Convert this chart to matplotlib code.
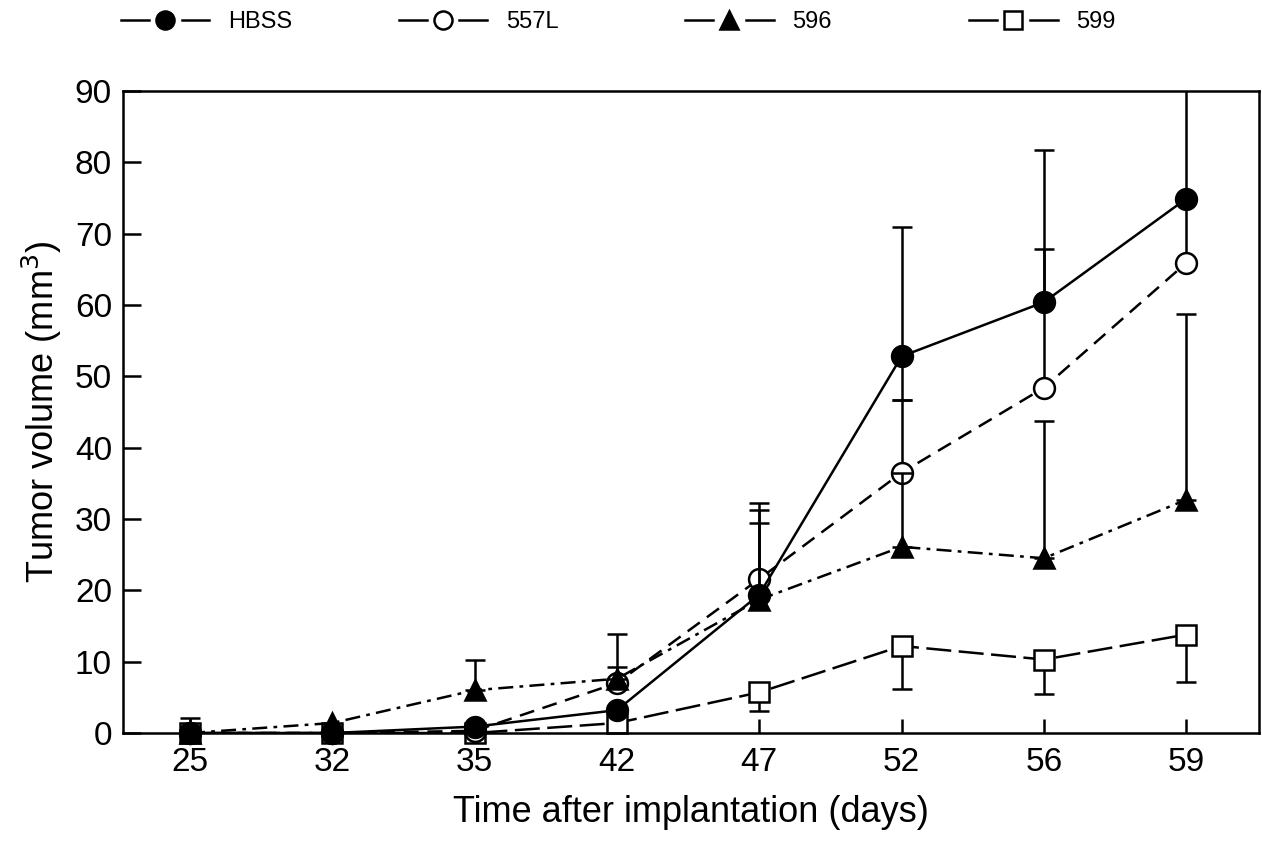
import numpy as np
import matplotlib.pyplot as plt
from matplotlib.lines import Line2D

plt.rcParams['font.family'] = ['Liberation Sans', 'DejaVu Sans']

days = ['25', '32', '35', '42', '47', '52', '56', '59']

hbss = [0, 0, 0.9, 3.2, 19.4, 52.8, 60.4, 74.9]
hbss_lo = [0, 0, 0, 0, 0, 6.1, 0, 0]
hbss_hi = [2.1, 0, 0, 0, 12.9, 18.2, 21.3, 20.0]

l557 = [0, 0, 0.3, 7.0, 21.6, 36.5, 48.4, 65.9]
l557_hi = [0, 0, 0, 2.2, 9.6, 10.2, 19.5, 8.6]

s596 = [0, 1.4, 6.0, 7.6, 18.7, 26.1, 24.5, 32.7]
s596_hi = [0, 0, 4.2, 6.3, 10.8, 10.4, 19.2, 26.0]

s599 = [0, 0, 0, 1.4, 5.7, 12.2, 10.3, 13.8]
s599_lo = [0, 0, 0, 0, 2.6, 6.1, 4.8, 6.7]

x = np.arange(len(days))
zeros = [0] * len(days)

series = [
    ('HBSS', hbss, hbss_lo, hbss_hi, 'o', 'black', '-'),
    ('557L', l557, zeros, l557_hi, 'o', 'white', (0, (6, 3.5))),
    ('596', s596, zeros, s596_hi, '^', 'black', (0, (6, 2.5, 1.5, 2.5))),
    ('599', s599, s599_lo, zeros, 's', 'white', (0, (10, 3))),
]
# drawing order: open markers first, filled ones on top
draw_order = [3, 1, 2, 0]

fig = plt.figure(figsize=(12.62, 8.48), dpi=100)
ax = fig.add_axes([0.0975, 0.1356, 0.9, 0.7571])

for k, i in enumerate(draw_order):
    name, vals, lo, hi, mk, fc, ls = series[i]
    vals = np.array(vals)
    lo = np.array(lo)
    hi = np.array(hi)
    z = 2 + k * 3
    up = hi > 0
    if up.any():
        ax.errorbar(x[up], vals[up], yerr=[np.zeros(up.sum()), hi[up]], fmt='none',
                    ecolor='black', elinewidth=1.8, capsize=7, capthick=1.8, zorder=z)
    dn = lo > 0
    if dn.any():
        ax.errorbar(x[dn], vals[dn], yerr=[lo[dn], np.zeros(dn.sum())], fmt='none',
                    ecolor='black', elinewidth=1.8, capsize=7, capthick=1.8, zorder=z)
    ax.plot(x, vals, color='black', linestyle=ls, linewidth=1.8, zorder=z + 1)
    ax.plot(x, vals, linestyle='none', marker=mk, markersize=15, markerfacecolor=fc,
            markeredgecolor='black', markeredgewidth=1.8, zorder=z + 2, clip_on=False)

ax.set_xlim(-0.47, 7.51)
ax.set_ylim(0, 90)
ax.set_xticks(x)
ax.set_xticklabels(days)
ax.set_yticks(range(0, 91, 10))
ax.tick_params(axis='x', direction='in', length=10, width=1.8, labelsize=24, pad=10)
ax.tick_params(axis='y', direction='in', length=13, width=1.8, labelsize=24, pad=8)
for sp in ax.spines.values():
    sp.set_linewidth(1.8)
    sp.set_zorder(20)
ax.set_xlabel('Time after implantation (days)', fontsize=26, labelpad=12)
ax.set_ylabel('Tumor volume (mm$^3$)', fontsize=26, labelpad=8)

# legend along the top
leg_x = [0.131, 0.351, 0.578, 0.803]
for (name, vals, lo, hi, mk, fc, ls), lx in zip(series, leg_x):
    fig.add_artist(Line2D([lx - 0.035, lx - 0.013], [0.976, 0.976], color='black',
                          linewidth=1.8, transform=fig.transFigure))
    fig.add_artist(Line2D([lx + 0.013, lx + 0.035], [0.976, 0.976], color='black',
                          linewidth=1.8, transform=fig.transFigure))
    fig.add_artist(Line2D([lx], [0.976], marker=mk, markersize=13, markerfacecolor=fc,
                          markeredgecolor='black', markeredgewidth=1.8, linestyle='none',
                          transform=fig.transFigure))
    fig.text(lx + 0.05, 0.974, name, fontsize=17, va='center', ha='left')

fig.savefig('out.png', dpi=100)
